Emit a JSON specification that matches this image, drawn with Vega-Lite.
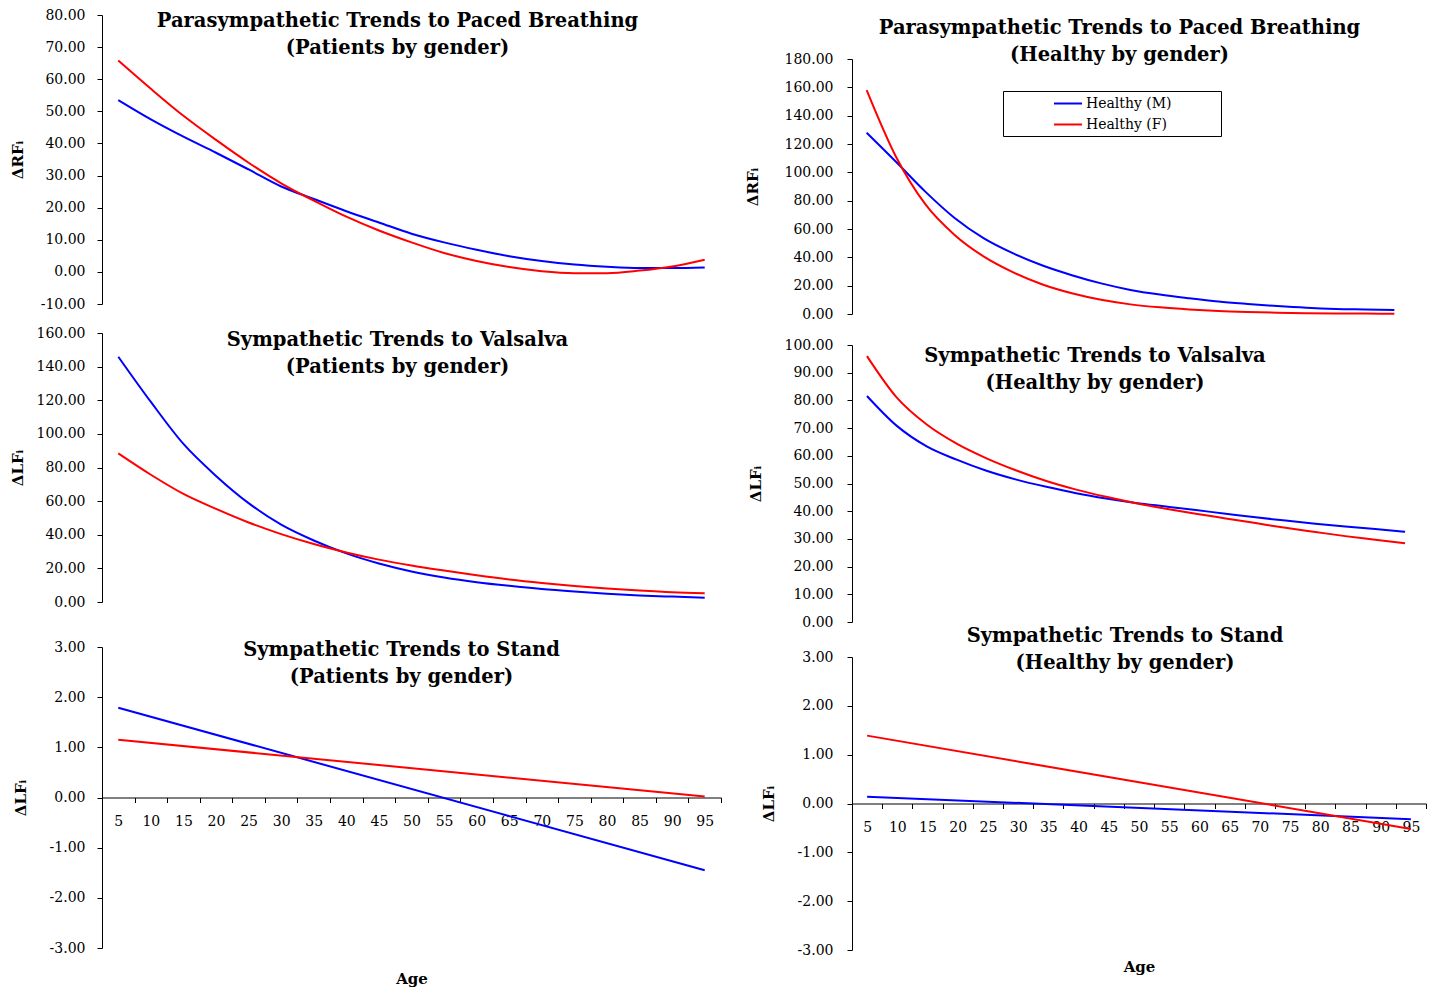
{
  "$schema": "https://vega.github.io/schema/vega-lite/v6.json",
  "background": "white",
  "padding": {"left": 10, "top": 8, "right": 2, "bottom": 2},
  "datasets": {
    "d": [
      {"panel":"pb_pat","gender":"M","age":5,"value":53.5},{"panel":"pb_pat","gender":"M","age":10,"value":47.5},{"panel":"pb_pat","gender":"M","age":15,"value":42.1},{"panel":"pb_pat","gender":"M","age":20,"value":37.1},{"panel":"pb_pat","gender":"M","age":25,"value":31.9},{"panel":"pb_pat","gender":"M","age":30,"value":26.6},{"panel":"pb_pat","gender":"M","age":35,"value":22.7},{"panel":"pb_pat","gender":"M","age":40,"value":18.9},{"panel":"pb_pat","gender":"M","age":45,"value":15.4},{"panel":"pb_pat","gender":"M","age":50,"value":11.9},{"panel":"pb_pat","gender":"M","age":55,"value":9.2},{"panel":"pb_pat","gender":"M","age":60,"value":6.9},{"panel":"pb_pat","gender":"M","age":65,"value":4.9},{"panel":"pb_pat","gender":"M","age":70,"value":3.4},{"panel":"pb_pat","gender":"M","age":75,"value":2.3},{"panel":"pb_pat","gender":"M","age":80,"value":1.6},{"panel":"pb_pat","gender":"M","age":85,"value":1.2},{"panel":"pb_pat","gender":"M","age":90,"value":1.2},{"panel":"pb_pat","gender":"M","age":95,"value":1.4},
      {"panel":"pb_pat","gender":"F","age":5,"value":65.8},{"panel":"pb_pat","gender":"F","age":10,"value":57.0},{"panel":"pb_pat","gender":"F","age":15,"value":48.6},{"panel":"pb_pat","gender":"F","age":20,"value":41.1},{"panel":"pb_pat","gender":"F","age":25,"value":34.0},{"panel":"pb_pat","gender":"F","age":30,"value":27.6},{"panel":"pb_pat","gender":"F","age":35,"value":22.2},{"panel":"pb_pat","gender":"F","age":40,"value":17.2},{"panel":"pb_pat","gender":"F","age":45,"value":12.9},{"panel":"pb_pat","gender":"F","age":50,"value":9.2},{"panel":"pb_pat","gender":"F","age":55,"value":5.9},{"panel":"pb_pat","gender":"F","age":60,"value":3.4},{"panel":"pb_pat","gender":"F","age":65,"value":1.5},{"panel":"pb_pat","gender":"F","age":70,"value":0.2},{"panel":"pb_pat","gender":"F","age":75,"value":-0.4},{"panel":"pb_pat","gender":"F","age":80,"value":-0.4},{"panel":"pb_pat","gender":"F","age":85,"value":0.4},{"panel":"pb_pat","gender":"F","age":90,"value":1.7},{"panel":"pb_pat","gender":"F","age":95,"value":3.8},
      {"panel":"pb_hea","gender":"M","age":5,"value":128.0},{"panel":"pb_hea","gender":"M","age":10,"value":107.5},{"panel":"pb_hea","gender":"M","age":15,"value":86.4},{"panel":"pb_hea","gender":"M","age":20,"value":67.8},{"panel":"pb_hea","gender":"M","age":25,"value":53.4},{"panel":"pb_hea","gender":"M","age":30,"value":42.8},{"panel":"pb_hea","gender":"M","age":35,"value":34.2},{"panel":"pb_hea","gender":"M","age":40,"value":27.4},{"panel":"pb_hea","gender":"M","age":45,"value":21.6},{"panel":"pb_hea","gender":"M","age":50,"value":17.0},{"panel":"pb_hea","gender":"M","age":55,"value":13.7},{"panel":"pb_hea","gender":"M","age":60,"value":11.1},{"panel":"pb_hea","gender":"M","age":65,"value":8.8},{"panel":"pb_hea","gender":"M","age":70,"value":7.1},{"panel":"pb_hea","gender":"M","age":75,"value":5.6},{"panel":"pb_hea","gender":"M","age":80,"value":4.4},{"panel":"pb_hea","gender":"M","age":85,"value":3.6},{"panel":"pb_hea","gender":"M","age":90,"value":3.2},{"panel":"pb_hea","gender":"M","age":95,"value":2.8},
      {"panel":"pb_hea","gender":"F","age":5,"value":158.0},{"panel":"pb_hea","gender":"F","age":10,"value":111.0},{"panel":"pb_hea","gender":"F","age":15,"value":77.5},{"panel":"pb_hea","gender":"F","age":20,"value":55.8},{"panel":"pb_hea","gender":"F","age":25,"value":40.5},{"panel":"pb_hea","gender":"F","age":30,"value":29.4},{"panel":"pb_hea","gender":"F","age":35,"value":20.8},{"panel":"pb_hea","gender":"F","age":40,"value":14.6},{"panel":"pb_hea","gender":"F","age":45,"value":10.0},{"panel":"pb_hea","gender":"F","age":50,"value":6.8},{"panel":"pb_hea","gender":"F","age":55,"value":4.7},{"panel":"pb_hea","gender":"F","age":60,"value":3.2},{"panel":"pb_hea","gender":"F","age":65,"value":2.1},{"panel":"pb_hea","gender":"F","age":70,"value":1.4},{"panel":"pb_hea","gender":"F","age":75,"value":0.9},{"panel":"pb_hea","gender":"F","age":80,"value":0.6},{"panel":"pb_hea","gender":"F","age":85,"value":0.4},{"panel":"pb_hea","gender":"F","age":90,"value":0.3},{"panel":"pb_hea","gender":"F","age":95,"value":0.2},
      {"panel":"va_pat","gender":"M","age":5,"value":145.9},{"panel":"va_pat","gender":"M","age":10,"value":119.0},{"panel":"va_pat","gender":"M","age":15,"value":94.0},{"panel":"va_pat","gender":"M","age":20,"value":75.0},{"panel":"va_pat","gender":"M","age":25,"value":58.8},{"panel":"va_pat","gender":"M","age":30,"value":46.0},{"panel":"va_pat","gender":"M","age":35,"value":36.6},{"panel":"va_pat","gender":"M","age":40,"value":28.9},{"panel":"va_pat","gender":"M","age":45,"value":22.9},{"panel":"va_pat","gender":"M","age":50,"value":18.2},{"panel":"va_pat","gender":"M","age":55,"value":14.6},{"panel":"va_pat","gender":"M","age":60,"value":11.8},{"panel":"va_pat","gender":"M","age":65,"value":9.6},{"panel":"va_pat","gender":"M","age":70,"value":7.7},{"panel":"va_pat","gender":"M","age":75,"value":6.2},{"panel":"va_pat","gender":"M","age":80,"value":4.9},{"panel":"va_pat","gender":"M","age":85,"value":3.9},{"panel":"va_pat","gender":"M","age":90,"value":3.2},{"panel":"va_pat","gender":"M","age":95,"value":2.6},
      {"panel":"va_pat","gender":"F","age":5,"value":88.4},{"panel":"va_pat","gender":"F","age":10,"value":75.7},{"panel":"va_pat","gender":"F","age":15,"value":64.3},{"panel":"va_pat","gender":"F","age":20,"value":55.4},{"panel":"va_pat","gender":"F","age":25,"value":47.3},{"panel":"va_pat","gender":"F","age":30,"value":40.4},{"panel":"va_pat","gender":"F","age":35,"value":34.5},{"panel":"va_pat","gender":"F","age":40,"value":29.5},{"panel":"va_pat","gender":"F","age":45,"value":25.2},{"panel":"va_pat","gender":"F","age":50,"value":21.7},{"panel":"va_pat","gender":"F","age":55,"value":18.7},{"panel":"va_pat","gender":"F","age":60,"value":15.9},{"panel":"va_pat","gender":"F","age":65,"value":13.4},{"panel":"va_pat","gender":"F","age":70,"value":11.3},{"panel":"va_pat","gender":"F","age":75,"value":9.5},{"panel":"va_pat","gender":"F","age":80,"value":8.0},{"panel":"va_pat","gender":"F","age":85,"value":6.8},{"panel":"va_pat","gender":"F","age":90,"value":5.8},{"panel":"va_pat","gender":"F","age":95,"value":5.2},
      {"panel":"va_hea","gender":"M","age":5,"value":81.6},{"panel":"va_hea","gender":"M","age":10,"value":70.8},{"panel":"va_hea","gender":"M","age":15,"value":63.4},{"panel":"va_hea","gender":"M","age":20,"value":58.6},{"panel":"va_hea","gender":"M","age":25,"value":54.6},{"panel":"va_hea","gender":"M","age":30,"value":51.4},{"panel":"va_hea","gender":"M","age":35,"value":48.8},{"panel":"va_hea","gender":"M","age":40,"value":46.5},{"panel":"va_hea","gender":"M","age":45,"value":44.6},{"panel":"va_hea","gender":"M","age":50,"value":43.0},{"panel":"va_hea","gender":"M","age":55,"value":41.7},{"panel":"va_hea","gender":"M","age":60,"value":40.4},{"panel":"va_hea","gender":"M","age":65,"value":39.1},{"panel":"va_hea","gender":"M","age":70,"value":37.8},{"panel":"va_hea","gender":"M","age":75,"value":36.6},{"panel":"va_hea","gender":"M","age":80,"value":35.5},{"panel":"va_hea","gender":"M","age":85,"value":34.5},{"panel":"va_hea","gender":"M","age":90,"value":33.6},{"panel":"va_hea","gender":"M","age":95,"value":32.6},
      {"panel":"va_hea","gender":"F","age":5,"value":96.0},{"panel":"va_hea","gender":"F","age":10,"value":81.0},{"panel":"va_hea","gender":"F","age":15,"value":71.3},{"panel":"va_hea","gender":"F","age":20,"value":64.4},{"panel":"va_hea","gender":"F","age":25,"value":59.1},{"panel":"va_hea","gender":"F","age":30,"value":54.7},{"panel":"va_hea","gender":"F","age":35,"value":50.9},{"panel":"va_hea","gender":"F","age":40,"value":47.8},{"panel":"va_hea","gender":"F","age":45,"value":45.2},{"panel":"va_hea","gender":"F","age":50,"value":42.9},{"panel":"va_hea","gender":"F","age":55,"value":40.9},{"panel":"va_hea","gender":"F","age":60,"value":39.1},{"panel":"va_hea","gender":"F","age":65,"value":37.4},{"panel":"va_hea","gender":"F","age":70,"value":35.7},{"panel":"va_hea","gender":"F","age":75,"value":34.0},{"panel":"va_hea","gender":"F","age":80,"value":32.5},{"panel":"va_hea","gender":"F","age":85,"value":31.0},{"panel":"va_hea","gender":"F","age":90,"value":29.7},{"panel":"va_hea","gender":"F","age":95,"value":28.4},
      {"panel":"st_pat","gender":"M","age":5,"value":1.79},{"panel":"st_pat","gender":"M","age":95,"value":-1.45},
      {"panel":"st_pat","gender":"F","age":5,"value":1.15},{"panel":"st_pat","gender":"F","age":95,"value":0.02},
      {"panel":"st_hea","gender":"M","age":5,"value":0.14},{"panel":"st_hea","gender":"M","age":95,"value":-0.32},
      {"panel":"st_hea","gender":"F","age":5,"value":1.39},{"panel":"st_hea","gender":"F","age":95,"value":-0.52}
    ]
  },
  "config": {
    "view": {"stroke": null},
    "axis": {
      "labelFont": "DejaVu Serif", "labelFontSize": 14, "labelColor": "black",
      "domainColor": "black", "tickColor": "black", "tickSize": 5, "grid": false,
      "titleFont": "DejaVu Serif", "titleFontSize": 15, "titleFontWeight": "bold", "titleColor": "black"
    },
    "title": {"font": "DejaVu Serif", "fontSize": 19.5, "fontWeight": "bold", "color": "black", "lineHeight": 27, "anchor": "middle", "frame": "group"},
    "line": {"strokeWidth": 2, "interpolate": "monotone"}
  },
  "spacing": 23,
  "resolve": {"scale": {"x": "independent", "y": "independent", "color": "independent"}, "legend": {"color": "independent"}},
  "hconcat": [
    {
      "spacing": 29,
      "bounds": "flush",
      "resolve": {"scale": {"x": "independent", "y": "independent", "color": "independent"}, "legend": {"color": "independent"}},
      "vconcat": [
        {
          "width": 619, "height": 289,
          "data": {"name": "d"},
          "transform": [{"filter": "datum.panel === 'pb_pat'"}],
          "title": {"text": ["Parasympathetic Trends to Paced Breathing", "(Patients by gender)"], "offset": -50, "dx": -14},
          "mark": {"type": "line"},
          "encoding": {
            "x": {"field": "age", "type": "quantitative", "scale": {"domain": [2.5, 97.5], "nice": false, "zero": false}, "axis": null},
            "y": {"field": "value", "type": "quantitative", "scale": {"domain": [-10, 80], "nice": false, "zero": false},
                  "axis": {"values": [-10,0,10,20,30,40,50,60,70,80], "format": ".2f", "labelExpr": "replace(datum.label, '\u2212', '-')", "labelPadding": 12, "title": "ΔRFᵢ", "titleX": -85, "titleBaseline": "middle"}},
            "color": {"field": "gender", "type": "nominal", "scale": {"domain": ["M", "F"], "range": ["#0000FF", "#FF0000"]}, "legend": null}
          }
        },
        {
          "width": 619, "height": 269,
          "data": {"name": "d"},
          "transform": [{"filter": "datum.panel === 'va_pat'"}],
          "title": {"text": ["Sympathetic Trends to Valsalva", "(Patients by gender)"], "offset": -51, "dx": -14},
          "mark": {"type": "line"},
          "encoding": {
            "x": {"field": "age", "type": "quantitative", "scale": {"domain": [2.5, 97.5], "nice": false, "zero": false}, "axis": null},
            "y": {"field": "value", "type": "quantitative", "scale": {"domain": [0, 160], "nice": false, "zero": false},
                  "axis": {"values": [0,20,40,60,80,100,120,140,160], "format": ".2f", "labelPadding": 12, "title": "ΔLFᵢ", "titleX": -85, "titleBaseline": "middle"}},
            "color": {"field": "gender", "type": "nominal", "scale": {"domain": ["M", "F"], "range": ["#0000FF", "#FF0000"]}, "legend": null}
          }
        },
        {
          "width": 619, "height": 317,
          "data": {"name": "d"},
          "transform": [{"filter": "datum.panel === 'st_pat'"}],
          "title": {"text": ["Sympathetic Trends to Stand", "(Patients by gender)"], "offset": -56, "dx": -10},
          "mark": {"type": "line"},
          "encoding": {
            "x": {"field": "age", "type": "quantitative", "scale": {"domain": [2.5, 97.5], "nice": false, "zero": false},
                  "axis": {"values": [5,10,15,20,25,30,35,40,45,50,55,60,65,70,75,80,85,90,95], "tickOffset": 16.29, "labelOffset": -16.29, "offset": -150.5, "labelPadding": 12, "labelFlush": false, "labelOverlap": false, "title": "Age", "titleY": 180.5, "titleBaseline": "middle"}},
            "y": {"field": "value", "type": "quantitative", "scale": {"domain": [-3, 3], "nice": false, "zero": false, "range": [317, 16]},
                  "axis": {"values": [-3,-2,-1,0,1,2,3], "format": ".2f", "labelExpr": "replace(datum.label, '\u2212', '-')", "labelPadding": 12, "title": "ΔLFᵢ", "titleX": -82, "titleBaseline": "middle"}},
            "color": {"field": "gender", "type": "nominal", "scale": {"domain": ["M", "F"], "range": ["#0000FF", "#FF0000"]}, "legend": null}
          }
        }
      ]
    },
    {
      "spacing": 31,
      "bounds": "flush",
      "resolve": {"scale": {"x": "independent", "y": "independent", "color": "independent"}, "legend": {"color": "independent"}},
      "vconcat": [
        {
          "width": 557, "height": 299,
          "data": {"name": "d"},
          "transform": [{"filter": "datum.panel === 'pb_hea'"}],
          "title": {"text": ["Parasympathetic Trends to Paced Breathing", "(Healthy by gender)"], "offset": -50, "dx": -11},
          "mark": {"type": "line"},
          "encoding": {
            "x": {"field": "age", "type": "quantitative", "scale": {"domain": [2.5, 97.5], "nice": false, "zero": false}, "axis": null},
            "y": {"field": "value", "type": "quantitative", "scale": {"domain": [0, 180], "nice": false, "zero": false, "range": [299, 44]},
                  "axis": {"values": [0,20,40,60,80,100,120,140,160,180], "format": ".2f", "labelPadding": 14, "title": "ΔRFᵢ", "titleX": -100, "titleBaseline": "middle"}},
            "color": {"field": "gender", "type": "nominal", "scale": {"domain": ["M", "F"], "range": ["#0000FF", "#FF0000"]},
                      "legend": {"orient": "none", "legendX": 151, "legendY": 76, "title": null, "strokeColor": "black", "padding": 4.5,
                                 "symbolType": "M-2,0L2,0", "symbolSize": 196, "symbolStrokeWidth": 2, "symbolOffset": 52.5,
                                 "labelFont": "DejaVu Serif", "labelFontSize": 14, "labelColor": "black", "labelOffset": 10, "rowPadding": 6,
                                 "labelExpr": "'Healthy (' + datum.label + ')' + '\u00a0\u00a0\u00a0\u00a0\u00a0\u00a0\u00a0\u00a0\u00a0\u00a0' + '\u200b'"}}
          }
        },
        {
          "width": 568, "height": 277,
          "data": {"name": "d"},
          "transform": [{"filter": "datum.panel === 'va_hea'"}],
          "title": {"text": ["Sympathetic Trends to Valsalva", "(Healthy by gender)"], "offset": -55, "dx": -41},
          "mark": {"type": "line"},
          "encoding": {
            "x": {"field": "age", "type": "quantitative", "scale": {"domain": [2.5, 97.5], "nice": false, "zero": false}, "axis": null},
            "y": {"field": "value", "type": "quantitative", "scale": {"domain": [0, 100], "nice": false, "zero": false},
                  "axis": {"values": [0,10,20,30,40,50,60,70,80,90,100], "format": ".2f", "labelPadding": 14, "title": "ΔLFᵢ", "titleX": -97, "titleBaseline": "middle"}},
            "color": {"field": "gender", "type": "nominal", "scale": {"domain": ["M", "F"], "range": ["#0000FF", "#FF0000"]}, "legend": null}
          }
        },
        {
          "width": 574, "height": 297,
          "data": {"name": "d"},
          "transform": [{"filter": "datum.panel === 'st_hea'"}],
          "title": {"text": ["Sympathetic Trends to Stand", "(Healthy by gender)"], "offset": -23, "dx": -14},
          "mark": {"type": "line"},
          "encoding": {
            "x": {"field": "age", "type": "quantitative", "scale": {"domain": [2.5, 97.5], "nice": false, "zero": false},
                  "axis": {"values": [5,10,15,20,25,30,35,40,45,50,55,60,65,70,75,80,85,90,95], "tickOffset": 15.1, "labelOffset": -15.1, "offset": -146.5, "labelPadding": 12, "labelFlush": false, "labelOverlap": false, "title": "Age", "titleY": 162.5, "titleBaseline": "middle"}},
            "y": {"field": "value", "type": "quantitative", "scale": {"domain": [-3, 3], "nice": false, "zero": false, "range": [297, 4]},
                  "axis": {"values": [-3,-2,-1,0,1,2,3], "format": ".2f", "labelExpr": "replace(datum.label, '\u2212', '-')", "labelPadding": 14, "title": "ΔLFᵢ", "titleX": -84, "titleBaseline": "middle"}},
            "color": {"field": "gender", "type": "nominal", "scale": {"domain": ["M", "F"], "range": ["#0000FF", "#FF0000"]}, "legend": null}
          }
        }
      ]
    }
  ]
}
